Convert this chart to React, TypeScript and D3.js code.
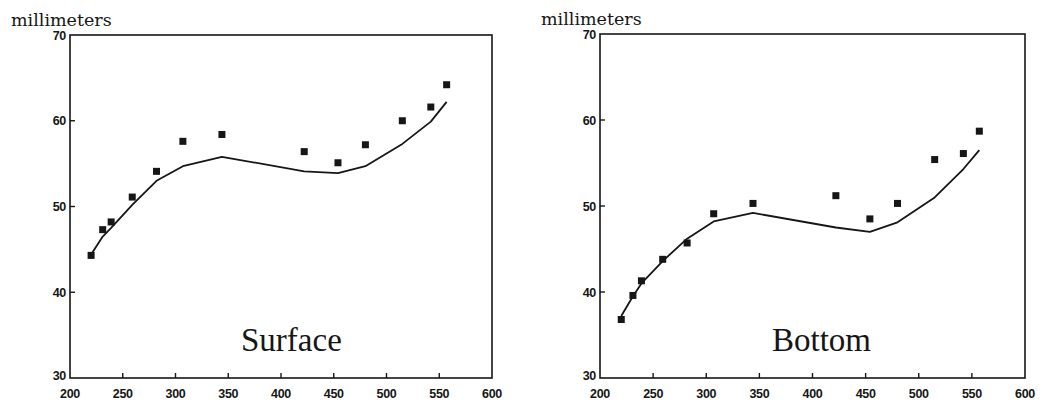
import React from "react";
import * as d3 from "d3";

// Sample depths (x) and measured thickness in millimeters
const depthX = [220, 231, 239, 259, 282, 307, 344, 422, 454, 480, 515, 542, 557];

const surfaceObserved = [44.3, 47.3, 48.2, 51.1, 54.1, 57.6, 58.4, 56.4, 55.1, 57.2, 60.0, 61.6, 64.2];
const surfaceFitted = [44.4, 46.5, 47.5, 50.2, 53.0, 54.7, 55.8, 54.1, 53.9, 54.7, 57.3, 59.9, 62.2];

const bottomObserved = [36.8, 39.6, 41.3, 43.8, 45.7, 49.1, 50.3, 51.2, 48.5, 50.3, 55.4, 56.1, 58.7];
const bottomFitted = [37.2, 39.5, 41.0, 43.6, 46.2, 48.2, 49.2, 47.5, 47.0, 48.1, 51.0, 54.3, 56.5];

const xTicks = [200, 250, 300, 350, 400, 450, 500, 550, 600];
const yTicks = [30, 40, 50, 60, 70];
const yUnit = "millimeters";

type PanelProps = {
  left: number;
  right: number;
  top: number;
  bottom: number;
  observed: number[];
  fitted: number[];
  title: string;
  titleX: number;
};

const ink = "#161616";
const tickFont = "'Liberation Sans', Arial, sans-serif";

function Panel({ left, right, top, bottom, observed, fitted, title, titleX }: PanelProps) {
  const x = d3.scaleLinear().domain([200, 600]).range([left, right]);
  const y = d3.scaleLinear().domain([30, 70]).range([bottom, top]);
  const line = d3
    .line<number>()
    .x((_, i) => x(depthX[i]))
    .y((d) => y(d));
  const tickLen = 5;
  const m = 7;
  return (
    <g>
      <text
        x={left - 59}
        y={top - 9}
        fontFamily="'DejaVu Serif', serif"
        fontSize={17.5}
        fill={ink}
      >
        {yUnit}
      </text>
      <rect
        x={left}
        y={top}
        width={right - left}
        height={bottom - top}
        fill="none"
        stroke={ink}
        strokeWidth={1.6}
      />
      {xTicks.slice(1, -1).map((t) => (
        <line key={"xt" + t} x1={x(t)} x2={x(t)} y1={bottom} y2={bottom - tickLen} stroke={ink} strokeWidth={1.4} />
      ))}
      {yTicks.slice(1, -1).map((t) => (
        <line key={"yt" + t} x1={left} x2={left + tickLen} y1={y(t)} y2={y(t)} stroke={ink} strokeWidth={1.4} />
      ))}
      {xTicks.map((t) => (
        <text
          key={"xl" + t}
          x={x(t)}
          y={bottom + 20}
          textAnchor="middle"
          fontFamily={tickFont}
          fontWeight="bold"
          fontSize={12.5}
          letterSpacing={-0.3}
          fill={ink}
        >
          {t}
        </text>
      ))}
      {yTicks.map((t) => (
        <text
          key={"yl" + t}
          x={left - 4}
          y={y(t) + (t === 30 ? 2 : 4.5)}
          textAnchor="end"
          fontFamily={tickFont}
          fontWeight="bold"
          fontSize={12.5}
          letterSpacing={-0.3}
          fill={ink}
        >
          {t}
        </text>
      ))}
      <path d={line(fitted) ?? ""} fill="none" stroke={ink} strokeWidth={1.8} strokeLinejoin="round" />
      {observed.map((v, i) => (
        <rect key={"p" + i} x={x(depthX[i]) - m / 2} y={y(v) - m / 2} width={m} height={m} fill={ink} />
      ))}
      <text
        x={titleX}
        y={bottom - 27}
        fontFamily="'Liberation Serif', 'Times New Roman', serif"
        fontSize={33}
        fill={ink}
      >
        {title}
      </text>
    </g>
  );
}

export default function App() {
  return (
    <svg
      width={1042}
      height={405}
      style={{ position: "absolute", left: 0, top: 0, background: "#fff" }}
    >
      <Panel
        left={70}
        right={492}
        top={35}
        bottom={378}
        observed={surfaceObserved}
        fitted={surfaceFitted}
        title="Surface"
        titleX={241}
      />
      <Panel
        left={600}
        right={1025}
        top={34}
        bottom={378}
        observed={bottomObserved}
        fitted={bottomFitted}
        title="Bottom"
        titleX={772}
      />
    </svg>
  );
}
